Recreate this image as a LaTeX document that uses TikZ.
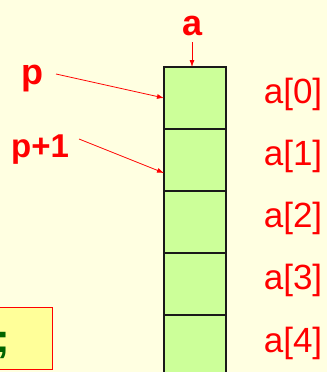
\documentclass[tikz,border=0pt]{standalone}
\usepackage{fontspec}
\setmainfont{Liberation Sans}
\usetikzlibrary{arrows.meta}
\definecolor{bgc}{RGB}{255,255,225}
\definecolor{cellc}{RGB}{204,255,153}
\definecolor{boxc}{RGB}{255,255,153}
\definecolor{codegreen}{RGB}{0,100,0}
\tikzset{
  cell/.style={draw=black!90, line width=1.6pt, fill=cellc, minimum width=62pt, minimum height=62pt, inner sep=0pt, outer sep=0pt},
  idx/.style={text=red, font=\fontsize{35}{40}\selectfont, anchor=base, inner sep=0pt},
  ptr/.style={text=red, font=\bfseries\fontsize{36}{40}\selectfont, anchor=base, inner sep=0pt},
  parrow/.style={draw=red, line width=0.8pt, -{Latex[length=7pt,width=5pt]}},
  codebox/.style={draw=red, line width=1pt, fill=boxc, inner sep=0pt, outer sep=0pt}
}
\begin{document}
\begin{tikzpicture}[x=1pt,y=-1pt]
\fill[bgc] (0,0) rectangle (327,372);
\useasboundingbox (0,0) rectangle (327,372);
% cells
\node[cell] (c0) at (195,98) {};
\node[cell] (c1) at (195,160) {};
\node[cell] (c2) at (195,222) {};
\node[cell] (c3) at (195,284) {};
\node[cell] (c4) at (195,346) {};
% index labels
\node[idx] (l0) at (293,103) {a[0]};
\node[idx] (l1) at (293,165) {a[1]};
\node[idx] (l2) at (293,227) {a[2]};
\node[idx] (l3) at (293,289) {a[3]};
\node[idx] (l4) at (293,352) {a[4]};
% pointer labels
\node[ptr] (a) at (193,35) {a};
\node[ptr] (p) at (32.5,84) {p};
\node[ptr, font=\bfseries\fontsize{33}{38}\selectfont] (p1) at (40,157) {p+1};
\coordinate (as) at (192,42);
\coordinate (ps) at (56,74);
\coordinate (p1s) at (79,139);
\draw[parrow] (as) -- (as |- c0.north);
\draw[parrow] (ps) -- (c0.west);
\draw[parrow] (p1s) -- ([yshift=-13pt]c1.west);
% code box
\node[codebox, minimum width=100pt, minimum height=62pt, anchor=north east] (code) at (52,307) {};
\node[text=codegreen, font=\bfseries\fontsize{40}{44}\selectfont, anchor=base east, inner sep=0pt] (semi) at (10,352) {;};
\end{tikzpicture}
\end{document}
